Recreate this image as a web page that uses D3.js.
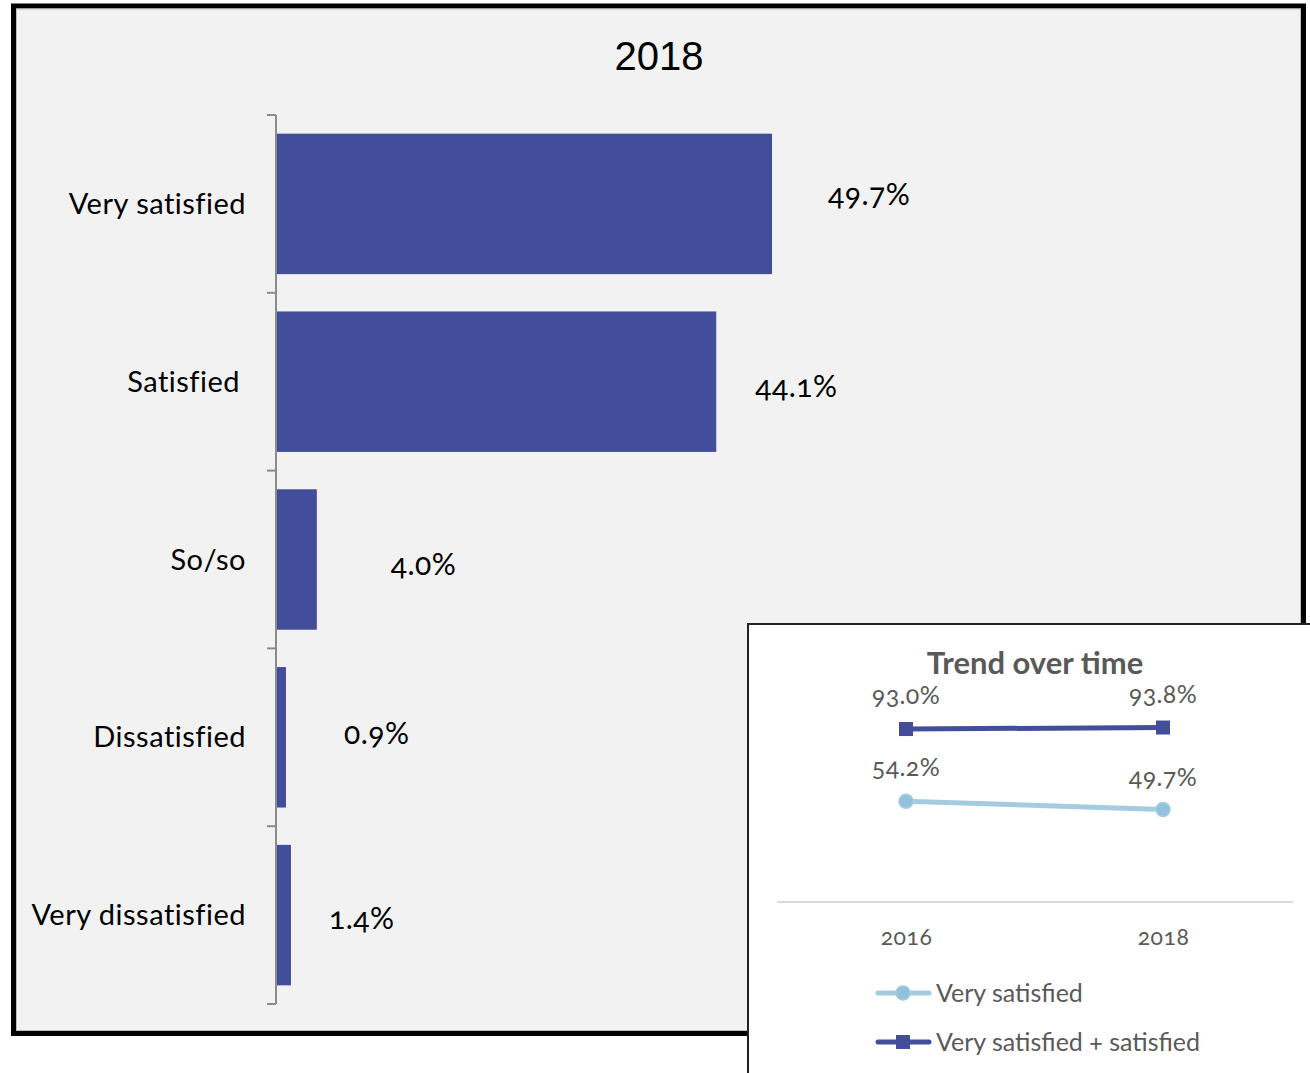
<!DOCTYPE html>
<html>
<head>
<meta charset="utf-8">
<script src="https://cdn.jsdelivr.net/npm/d3@7"></script>
<style>
  html, body { margin: 0; padding: 0; background: #ffffff; }
  svg { display: block; }
  .lbl { font-family: Lato, "Open Sans", sans-serif; font-variant-numeric: oldstyle-nums; font-feature-settings: "onum" 1; }
</style>
</head>
<body>
<svg id="chart" width="1310" height="1073"></svg>
<script>
// Survey responses, 2018 (share of respondents, %)
const categories = ["Very satisfied", "Satisfied", "So/so", "Dissatisfied", "Very dissatisfied"];
const values2018 = [49.7, 44.1, 4.0, 0.9, 1.4];

// Trend over time
const years = ["2016", "2018"];
const verySatisfied = [54.2, 49.7];
const verySatisfiedPlusSatisfied = [93.0, 93.8];
const trendSeries = ["Very satisfied", "Very satisfied + satisfied"];

// Hand-placed label nudges (dx from bar end, dy from bar centre)
const labelNudge = [[56, -9], [39, 5], [74, 5], [58, -3], [38, 4]];
// Hand-placed category label right edges
const catRight = [246, 240, 246, 246, 246];

const svg = d3.select("#chart");
const dark = "#434E9B";
const light = "#A3CCE0";
const lightMarker = "#93C0DA";
const grey = "#595959";

// Outer panel
svg.append("rect").attr("x", 13.5).attr("y", 6).attr("width", 1290).attr("height", 1027.5)
  .attr("fill", "#F2F2F2").attr("stroke", "#000").attr("stroke-width", 5);
svg.append("rect").attr("x", 16.5).attr("y", 9).attr("width", 1284).attr("height", 1021.5)
  .attr("fill", "none").attr("stroke", "#BDBDBD").attr("stroke-width", 1);

svg.append("text").attr("x", 659).attr("y", 70).attr("text-anchor", "middle")
  .style("font-family", "'Liberation Sans Narrow', 'Arial Narrow', sans-serif")
  .style("font-size", "40px").attr("fill", "#000").text("2018");

// Bar chart
const x = d3.scaleLinear().domain([0, 50]).range([277, 775]);
const y = d3.scaleBand().domain(categories).range([115, 1004]).paddingInner(0.21).paddingOuter(0.105);

svg.append("g").selectAll("rect").data(categories).join("rect")
  .attr("x", x(0))
  .attr("y", d => y(d))
  .attr("width", (d, i) => x(values2018[i]) - x(0))
  .attr("height", y.bandwidth())
  .attr("fill", dark);

// Category axis with outward ticks at band boundaries
const bandStep = (1004 - 115) / categories.length;
const axisG = svg.append("g").attr("stroke", "#8C8C8C").attr("stroke-width", 2);
axisG.append("line").attr("x1", 276).attr("x2", 276).attr("y1", 115).attr("y2", 1004);
d3.range(categories.length + 1).forEach(k => {
  const yy = 115 + k * bandStep;
  axisG.append("line").attr("x1", 267).attr("x2", 276).attr("y1", yy).attr("y2", yy);
});

svg.append("g").selectAll("text").data(categories).join("text")
  .attr("class", "lbl")
  .attr("x", (d, i) => catRight[i])
  .attr("y", d => y(d) + y.bandwidth() / 2 + 10)
  .attr("text-anchor", "end")
  .style("font-size", "29px").style("letter-spacing", "0.5px").attr("fill", "#000")
  .text(d => d);

svg.append("g").selectAll("text").data(categories).join("text")
  .attr("class", "lbl")
  .attr("x", (d, i) => x(values2018[i]) + labelNudge[i][0])
  .attr("y", (d, i) => y(d) + y.bandwidth() / 2 + 10 + labelNudge[i][1])
  .style("font-size", "30px").style("letter-spacing", "0.5px").attr("fill", "#000")
  .text((d, i) => values2018[i].toFixed(1) + "%");

// Inset: trend over time
svg.append("rect").attr("x", 748).attr("y", 624).attr("width", 580).attr("height", 470)
  .attr("fill", "#fff").attr("stroke", "#222").attr("stroke-width", 2);

svg.append("text").attr("x", 1035).attr("y", 674).attr("text-anchor", "middle")
  .style("font-family", "Lato, 'Open Sans', sans-serif").style("font-weight", "bold")
  .style("font-size", "31px").attr("fill", grey).text("Trend over time");

const tx = d3.scalePoint().domain(years).range([906, 1163]);
const ty = d3.scaleLinear().domain([0, 100]).range([902, 716]);

svg.append("line").attr("x1", 777).attr("x2", 1293).attr("y1", ty(0)).attr("y2", ty(0))
  .attr("stroke", "#D9D9D9").attr("stroke-width", 2);

const xAxis = svg.append("g").attr("transform", `translate(0,${ty(0)})`)
  .call(d3.axisBottom(tx).tickSize(0).tickPadding(27));
xAxis.select(".domain").remove();
xAxis.selectAll("text").attr("class", "lbl").style("font-size", "23px").style("letter-spacing", "0.5px").attr("fill", grey);

const lineGen = d3.line().x((d, i) => tx(years[i])).y(d => ty(d));

// Very satisfied series
svg.append("path").datum(verySatisfied).attr("d", lineGen)
  .attr("fill", "none").attr("stroke", light).attr("stroke-width", 5).attr("stroke-linecap", "round");
svg.append("g").selectAll("circle").data(verySatisfied).join("circle")
  .attr("cx", (d, i) => tx(years[i])).attr("cy", d => ty(d)).attr("r", 7)
  .attr("fill", lightMarker).attr("stroke", light).attr("stroke-width", 1.5);

// Very satisfied + satisfied series
svg.append("path").datum(verySatisfiedPlusSatisfied).attr("d", lineGen)
  .attr("fill", "none").attr("stroke", dark).attr("stroke-width", 5);
svg.append("g").selectAll("rect").data(verySatisfiedPlusSatisfied).join("rect")
  .attr("x", (d, i) => tx(years[i]) - 7).attr("y", d => ty(d) - 7)
  .attr("width", 14).attr("height", 14).attr("fill", dark);

// Value labels above points
const labelRows = [
  { vals: verySatisfiedPlusSatisfied, dy: [-25, -25] },
  { vals: verySatisfied, dy: [-25, -24] }
];
labelRows.forEach(row => {
  svg.append("g").selectAll("text").data(row.vals).join("text")
    .attr("class", "lbl")
    .attr("x", (d, i) => tx(years[i]))
    .attr("y", (d, i) => ty(d) + row.dy[i])
    .attr("text-anchor", "middle")
    .style("font-size", "25px").style("letter-spacing", "0.4px").attr("fill", grey)
    .text(d => d.toFixed(1) + "%");
});

// Legend
const legend = svg.append("g");
trendSeries.forEach((name, i) => {
  const ly = 993 + i * 49;
  const col = i === 0 ? light : dark;
  legend.append("line").attr("x1", 878).attr("x2", 929).attr("y1", ly).attr("y2", ly)
    .attr("stroke", col).attr("stroke-width", 5).attr("stroke-linecap", "round");
  if (i === 0) {
    legend.append("circle").attr("cx", 903).attr("cy", ly).attr("r", 7)
      .attr("fill", lightMarker).attr("stroke", light).attr("stroke-width", 1.5);
  } else {
    legend.append("rect").attr("x", 896).attr("y", ly - 7).attr("width", 14).attr("height", 14).attr("fill", dark);
  }
  legend.append("text").attr("class", "lbl").attr("x", 936).attr("y", ly + 9)
    .style("font-size", "25px").attr("fill", grey).text(name);
});
</script>
</body>
</html>
